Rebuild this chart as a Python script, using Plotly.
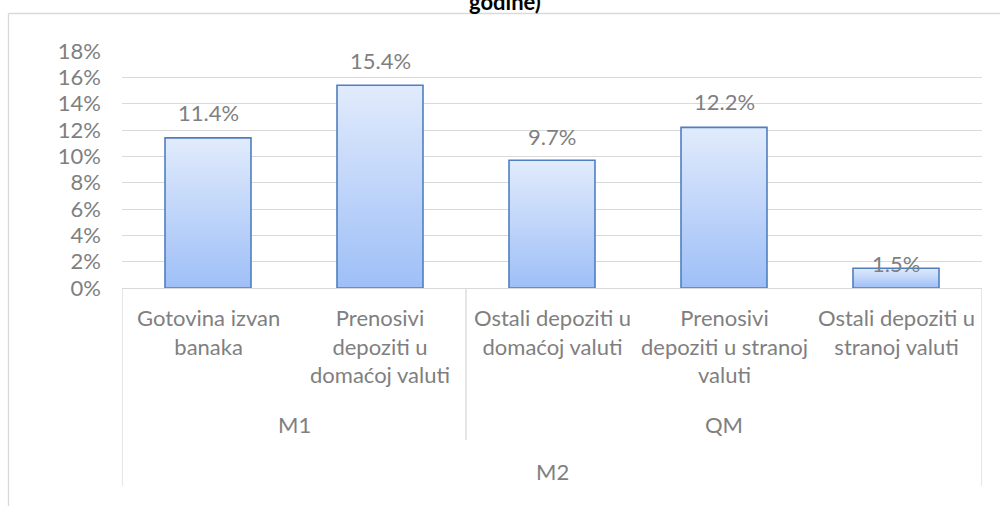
import plotly.graph_objects as go

# --- data ---
categories = [
    "Gotovina izvan<br>banaka",
    "Prenosivi<br>depoziti u<br>domaćoj valuti",
    "Ostali depoziti u<br>domaćoj valuti",
    "Prenosivi<br>depoziti u stranoj<br>valuti",
    "Ostali depoziti u<br>stranoj valuti",
]
values = [11.4, 15.4, 9.7, 12.2, 1.5]
groups = ["M1", "QM"]
group_sizes = [2, 3]
top_group = "M2"
title_text = "godine)"

# --- style ---
FONT = "Lato"
TEXT = "#7f7f7f"
GRID = "#d9d9d9"
EDGE = "#4f7fc0"
BAR_W = 0.5
label_lift = [25, 25, 24, 26, 5]

W, H = 1000, 506
L, R, T, B = 122, 18, 51, 218
plot_h = H - T - B
plot_w = W - L - R


def py(pix):
    # pixel row -> paper y
    return (H - B - pix) / plot_h


def px(pix):
    return (pix - L) / plot_w


fig = go.Figure()

for i, v in enumerate(values):
    fig.add_trace(go.Scatter(
        x=[i - BAR_W / 2, i + BAR_W / 2, i + BAR_W / 2, i - BAR_W / 2, i - BAR_W / 2],
        y=[0, 0, v, v, 0],
        mode="lines",
        fill="toself",
        fillgradient=dict(type="vertical",
                          colorscale=[[0, "#9ebff7"], [1, "#e1ebfc"]]),
        line=dict(color=EDGE, width=1.6),
        hoverinfo="skip",
        showlegend=False,
    ))
    fig.add_annotation(x=i, y=v, text=f"{v:.1f}%", showarrow=False,
                       yanchor="middle", yshift=label_lift[i],
                       font=dict(family=FONT, size=22, color=TEXT))
    fig.add_annotation(x=i, y=py(302), yref="paper", text=categories[i],
                       showarrow=False, yanchor="top",
                       font=dict(family=FONT, size=22, color=TEXT))

# group labels and separators
start = 0
fig.add_shape(type="line", xref="x", yref="paper", x0=-0.5, x1=-0.5,
              y0=0, y1=py(486), line=dict(color=GRID, width=1.3))
for g, n in zip(groups, group_sizes):
    mid = start + (n - 1) / 2
    fig.add_annotation(x=mid, y=py(424.5), yref="paper", text=g,
                       showarrow=False, yanchor="middle",
                       font=dict(family=FONT, size=22, color=TEXT))
    end = start + n - 0.5
    last = end >= len(values) - 0.5
    fig.add_shape(type="line", xref="x", yref="paper", x0=end, x1=end,
                  y0=0, y1=py(486 if last else 440),
                  line=dict(color=GRID, width=1.3))
    start += n

fig.add_annotation(x=(len(values) - 1) / 2, y=py(471), yref="paper",
                   text=top_group, showarrow=False, yanchor="middle",
                   font=dict(family=FONT, size=22, color=TEXT))

# outer chart frame (runs off the right and bottom)
fig.add_shape(type="line", xref="paper", yref="paper",
              x0=px(8.5), x1=px(1010), y0=py(13.5), y1=py(13.5),
              line=dict(color=GRID, width=1.3))
fig.add_shape(type="line", xref="paper", yref="paper",
              x0=px(8.5), x1=px(8.5), y0=py(13.5), y1=py(520),
              line=dict(color=GRID, width=1.3))

# title, cut off at the top edge like in the source image
fig.add_annotation(x=px(505), y=py(1.5), xref="paper", yref="paper",
                   text=f"<b>{title_text}</b>", showarrow=False,
                   yanchor="middle",
                   font=dict(family=FONT, size=22, color="#000000"))

fig.update_layout(
    width=W, height=H,
    margin=dict(l=L, r=R, t=T, b=B),
    paper_bgcolor="white", plot_bgcolor="white",
    xaxis=dict(range=[-0.5, len(values) - 0.5], showticklabels=False,
               showgrid=False, zeroline=False, showline=True,
               linecolor=GRID, linewidth=1.3, fixedrange=True),
    yaxis=dict(range=[0, 18], dtick=2, ticksuffix="%", showgrid=True,
               gridcolor=GRID, gridwidth=1.3, zeroline=False,
               ticks="", ticklabelstandoff=20,
               tickfont=dict(family=FONT, size=22, color=TEXT),
               fixedrange=True),
)

fig.write_html("out.html", config={"displayModeBar": False},
               post_script="document.body.style.margin='0';")
